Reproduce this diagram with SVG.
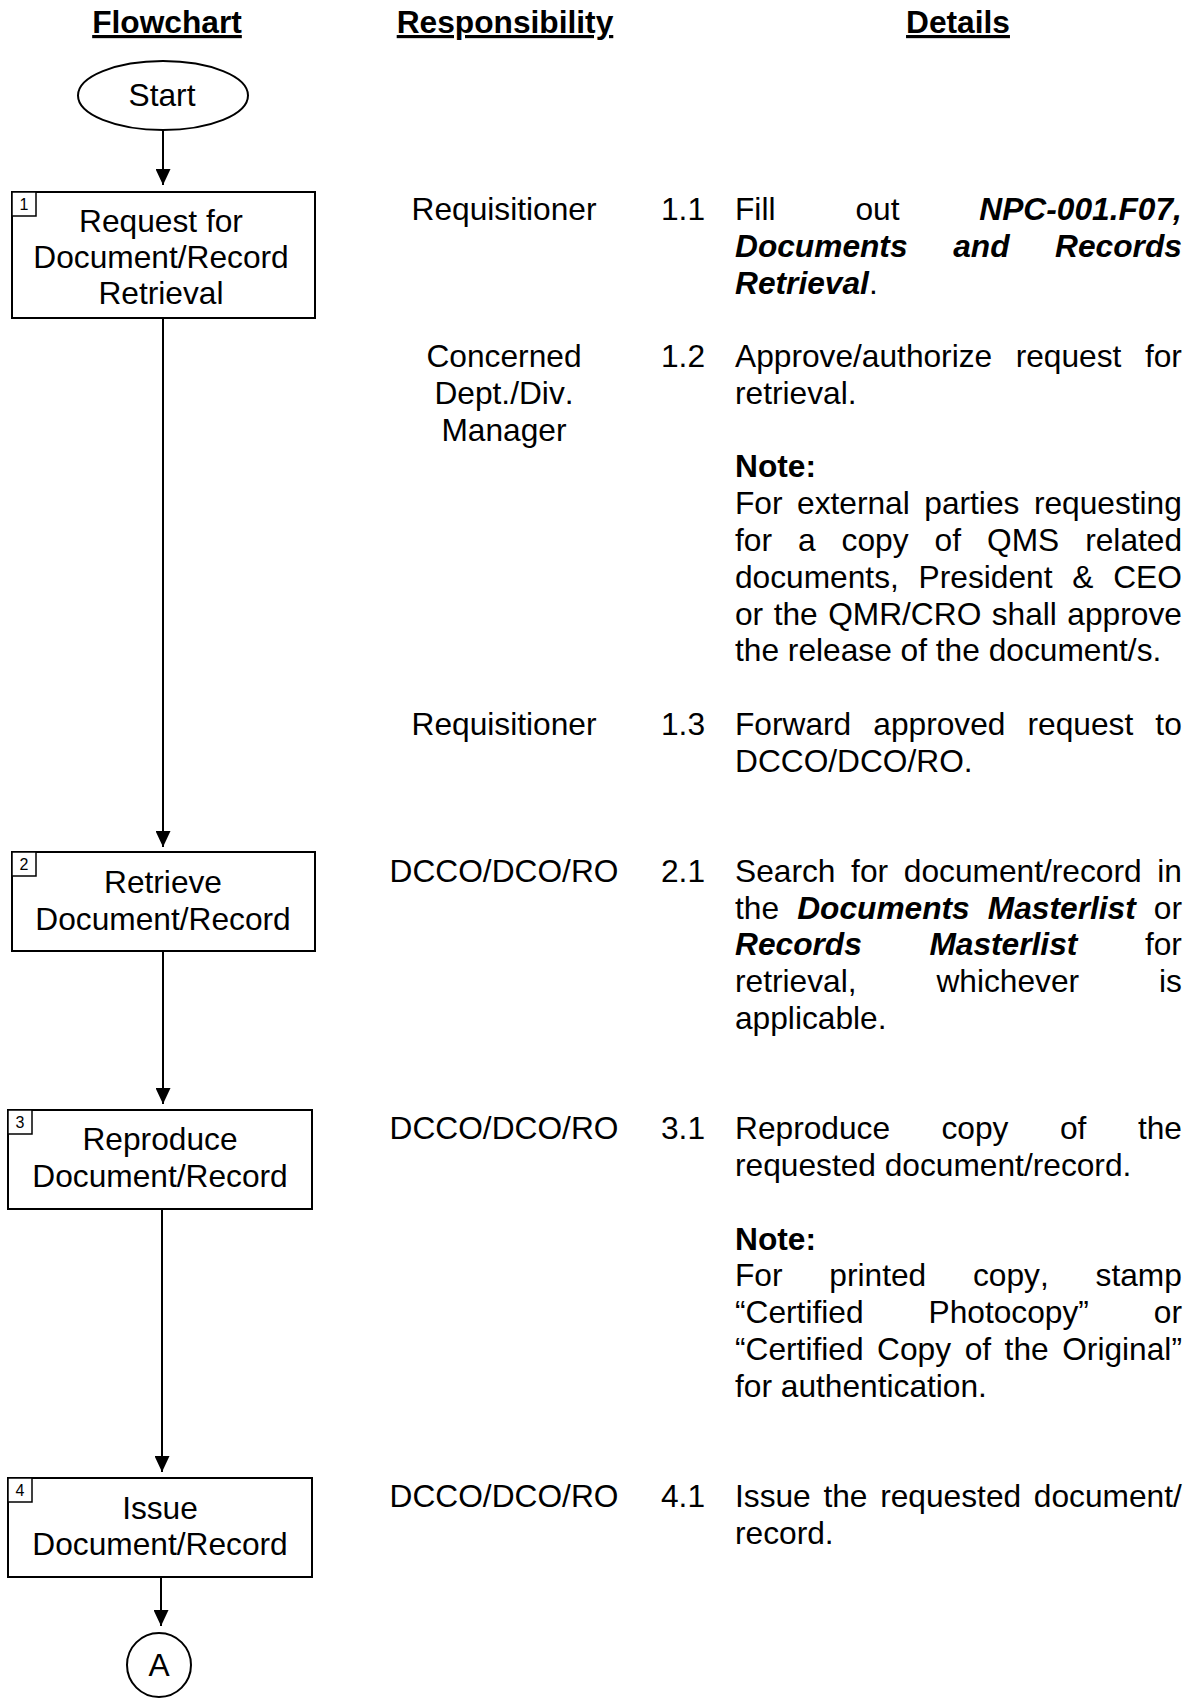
<svg xmlns="http://www.w3.org/2000/svg" width="1194" height="1701" viewBox="0 0 1194 1701">
  <style>
    text { font-family: "Liberation Sans", Arial, sans-serif; font-size: 31.7px; fill: #000; font-kerning: none; }
    .hdr { font-weight: bold; text-decoration: underline; text-anchor: middle; }
    .mid { text-anchor: middle; }
    .bi { font-weight: bold; font-style: italic; }
    .b { font-weight: bold; }
    .num { font-size: 16px; text-anchor: middle; }
    .shape { fill: #fff; stroke: #000; stroke-width: 2; }
    .tag { fill: #fff; stroke: #000; stroke-width: 1.5; }
    .link { fill: none; stroke: #000; stroke-width: 2; }
  </style>
  <defs>
    <marker id="arrow" markerUnits="userSpaceOnUse" markerWidth="16" markerHeight="15" refX="16" refY="7.5" orient="auto">
      <path d="M0,0 L16,7.5 L0,15 Z" fill="#000"/>
    </marker>
  </defs>
  <rect width="1194" height="1701" fill="#fff"/>

  <!-- column headings -->
  <g id="headings">
    <text class="hdr" x="167" y="33">Flowchart</text>
    <text class="hdr" x="505" y="33">Responsibility</text>
    <text class="hdr" x="958" y="33">Details</text>
  </g>

  <!-- connectors -->
  <g id="connectors">
    <line class="link" x1="163" y1="130" x2="163" y2="185" marker-end="url(#arrow)"/>
    <line class="link" x1="163" y1="318" x2="163" y2="847" marker-end="url(#arrow)"/>
    <line class="link" x1="163" y1="951" x2="163" y2="1104" marker-end="url(#arrow)"/>
    <line class="link" x1="162" y1="1209" x2="162" y2="1472" marker-end="url(#arrow)"/>
    <line class="link" x1="161" y1="1577" x2="161" y2="1626" marker-end="url(#arrow)"/>
  </g>

  <!-- flowchart nodes -->
  <g id="start">
    <ellipse class="shape" cx="163" cy="95.5" rx="85" ry="34.5"/>
    <text class="mid" x="162" y="106">Start</text>
  </g>

  <g id="step1">
    <rect class="shape" x="12" y="192" width="303" height="126"/>
    <rect class="tag" x="12" y="192" width="24" height="24"/>
    <text class="num" x="24" y="210">1</text>
    <text class="mid" x="161" y="232">Request for</text>
    <text class="mid" x="161" y="268">Document/Record</text>
    <text class="mid" x="161" y="304">Retrieval</text>
  </g>

  <g id="step2">
    <rect class="shape" x="12" y="852" width="303" height="99"/>
    <rect class="tag" x="12" y="852" width="24" height="24"/>
    <text class="num" x="24" y="870">2</text>
    <text class="mid" x="163" y="893">Retrieve</text>
    <text class="mid" x="163" y="930">Document/Record</text>
  </g>

  <g id="step3">
    <rect class="shape" x="8" y="1110" width="304" height="99"/>
    <rect class="tag" x="8" y="1110" width="24" height="24"/>
    <text class="num" x="20" y="1128">3</text>
    <text class="mid" x="160" y="1150">Reproduce</text>
    <text class="mid" x="160" y="1187">Document/Record</text>
  </g>

  <g id="step4">
    <rect class="shape" x="8" y="1478" width="304" height="99"/>
    <rect class="tag" x="8" y="1478" width="24" height="24"/>
    <text class="num" x="20" y="1496">4</text>
    <text class="mid" x="160" y="1519">Issue</text>
    <text class="mid" x="160" y="1555">Document/Record</text>
  </g>

  <g id="connector-a">
    <circle class="shape" cx="159" cy="1665" r="32"/>
    <text class="mid" x="159" y="1676">A</text>
  </g>

  <!-- responsibility column -->
  <g id="responsibility">
    <text class="mid" x="504" y="220">Requisitioner</text>
    <text class="mid" x="504" y="367.1">Concerned</text>
    <text class="mid" x="504" y="403.9">Dept./Div.</text>
    <text class="mid" x="504" y="440.6">Manager</text>
    <text class="mid" x="504" y="734.8">Requisitioner</text>
    <text class="mid" x="504" y="881.9">DCCO/DCO/RO</text>
    <text class="mid" x="504" y="1139.3">DCCO/DCO/RO</text>
    <text class="mid" x="504" y="1507">DCCO/DCO/RO</text>
  </g>

  <!-- step numbers -->
  <g id="step-numbers">
    <text x="661" y="220">1.1</text>
    <text x="661" y="367.1">1.2</text>
    <text x="661" y="734.8">1.3</text>
    <text x="661" y="881.9">2.1</text>
    <text x="661" y="1139.3">3.1</text>
    <text x="661" y="1507">4.1</text>
  </g>

  <!-- details column, justified lines use word-spacing -->
  <g id="details">
    <text x="735" y="220" word-spacing="71.1">Fill out <tspan class="bi">NPC-001.F07,</tspan></text>
    <text x="735" y="256.8" word-spacing="36.8"><tspan class="bi">Documents and Records</tspan></text>
    <text x="735" y="293.5"><tspan class="bi">Retrieval</tspan>.</text>

    <text x="735" y="367.1" word-spacing="14.7">Approve/authorize request for</text>
    <text x="735" y="403.9">retrieval.</text>

    <text class="b" x="735" y="477.4">Note:</text>
    <text x="735" y="514.2" word-spacing="5.7">For external parties requesting</text>
    <text x="735" y="550.9" word-spacing="17.2">for a copy of QMS related</text>
    <text x="735" y="587.7" word-spacing="11">documents, President &amp; CEO</text>
    <text x="735" y="624.5" word-spacing="1.65">or the QMR/CRO shall approve</text>
    <text x="735" y="661.2">the release of the document/s.</text>

    <text x="735" y="734.8" word-spacing="13.3">Forward approved request to</text>
    <text x="735" y="771.6">DCCO/DCO/RO.</text>

    <text x="735" y="881.9" word-spacing="6.9">Search for document/record in</text>
    <text x="735" y="918.6" word-spacing="9.3">the <tspan class="bi">Documents Masterlist</tspan> or</text>
    <text x="735" y="955.4" word-spacing="58.8"><tspan class="bi">Records Masterlist</tspan> for</text>
    <text x="735" y="992.2" word-spacing="71.1">retrieval, whichever is</text>
    <text x="735" y="1028.9">applicable.</text>

    <text x="735" y="1139.3" word-spacing="42.7">Reproduce copy of the</text>
    <text x="735" y="1176">requested document/record.</text>

    <text class="b" x="735" y="1249.6">Note:</text>
    <text x="735" y="1286.3" word-spacing="38">For printed copy, stamp</text>
    <text x="735" y="1323.1" word-spacing="56.2">“Certified Photocopy” or</text>
    <text x="735" y="1359.9" word-spacing="4.75">“Certified Copy of the Original”</text>
    <text x="735" y="1396.6">for authentication.</text>

    <text x="735" y="1507" word-spacing="3.9">Issue the requested document/</text>
    <text x="735" y="1543.7">record.</text>
  </g>
</svg>
